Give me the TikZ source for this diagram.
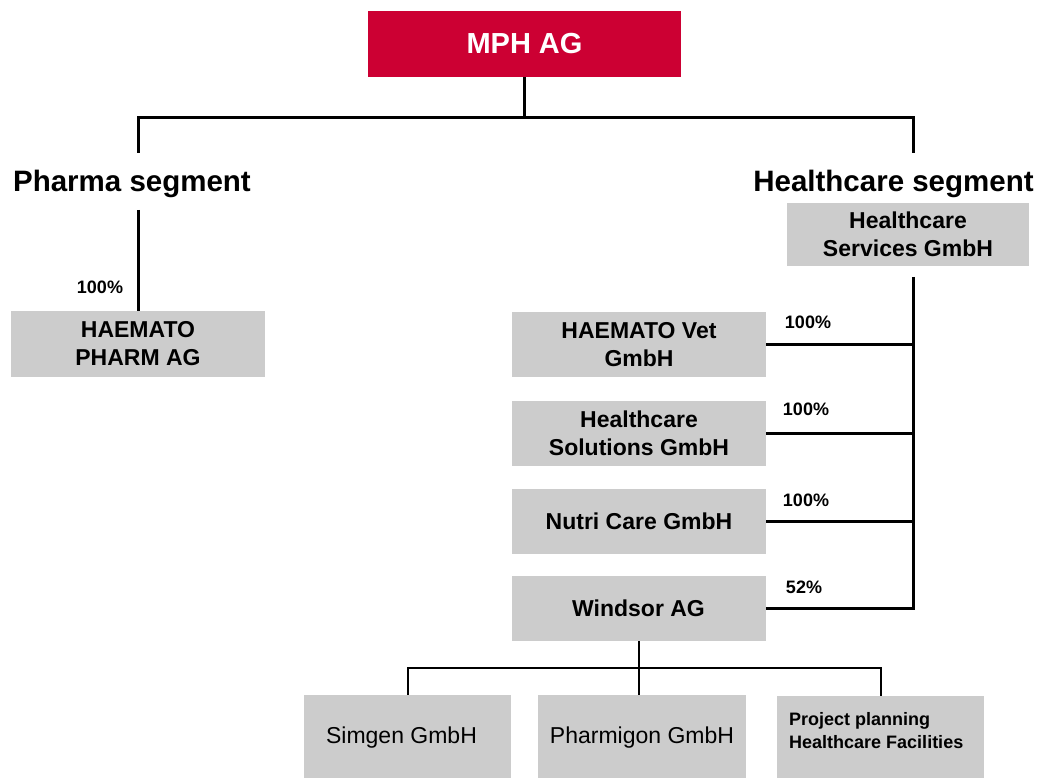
\documentclass[tikz,border=0pt]{standalone}
\usepackage{fontspec}
\setmainfont{Liberation Sans}
\definecolor{mphred}{HTML}{CC0033}
\definecolor{boxgray}{HTML}{CCCCCC}

\begin{document}
\begin{tikzpicture}[x=1pt,y=-1pt,
    unit/.style={fill=boxgray, inner sep=0pt, minimum width=254pt, minimum height=65pt,
        align=center, font=\fontsize{23}{28}\selectfont\bfseries},
    subunit/.style={fill=boxgray, inner sep=0pt, minimum width=207pt, minimum height=86pt,
        font=\fontsize{23}{28}\selectfont},
    share/.style={anchor=base, font=\fontsize{18}{22}\selectfont\bfseries},
    heading/.style={anchor=base, font=\fontsize{29.5}{33}\selectfont\bfseries},
    link/.style={line width=3pt},
    sublink/.style={line width=2pt}]
            \useasboundingbox (0,0) rectangle (1042,778);
            % holding
            \node (mph) [fill=mphred, text=white, minimum width=313pt, minimum height=66pt, inner sep=0pt,
                font=\fontsize{29}{32}\selectfont\bfseries] at (524.5,44) {MPH AG};
            % segments
            \node (pharma) [heading] at (132,192) {Pharma segment};
            \node (care) [heading] at (893.5,192) {Healthcare segment};
            \coordinate (top) at (524.5,118);
            \coordinate (pharmaend) at (138,153);
            \coordinate (careend) at (913,153);
            \draw [link] (mph.south) -- (top);
            \draw [link] (pharmaend) |- (top) -| (careend);

            % pharma side
            \node (hpa) [unit, minimum height=66pt] at (138,344) {HAEMATO\\PHARM AG};
            \coordinate (pharmatop) at (138,210);
            \draw [link] (pharmatop) -- (hpa.north);
            \node (hpashare) [share] at (100,294) {100\%};

            % healthcare side
            \node (hs) [unit, minimum width=242pt, minimum height=63pt] at (908,234.5) {Healthcare\\Services GmbH};
            \node (vet) [unit] at (639,344.5) {HAEMATO Vet\\GmbH};
            \node (sol) [unit] at (639,433) {Healthcare\\Solutions GmbH};
            \node (nutri) [unit] at (639,521) {Nutri Care GmbH};
            \node (windsor) [unit] at (638.5,608.5) {Windsor AG};
            \coordinate (hstop) at (913,277);
            \draw [link] (hstop) |- (windsor.east);
            \foreach \n in {vet,sol,nutri}{
                \draw [link] (\n.east) -- (\n.east -| hstop);
            }
            \node (vetshare) [share] at (808,328) {100\%};
            \node (solshare) [share] at (806,415) {100\%};
            \node (nutrishare) [share] at (806,506) {100\%};
            \node (windsorshare) [share] at (804,593) {52\%};

            % windsor holdings
            \node (simgen) [subunit] at (407.5,738) {\hspace*{-12pt}Simgen GmbH};
            \node (pharm) [subunit, minimum width=208pt] at (642,738) {Pharmigon GmbH};
            \node (proj) [subunit, minimum height=0pt, anchor=north west, inner xsep=12pt, inner ysep=16pt,
                font=\fontsize{18}{23}\selectfont\bfseries] at (777,696)
                {\parbox[t][54pt][t]{183pt}{Project planning\\Healthcare Facilities}};
            \coordinate (wbar) at (638.5,668);
            \draw [sublink] (windsor.south) -- (windsor.south |- pharm.north);
            \draw [sublink] (simgen.north) |- (wbar) -| (proj.north);
        \end{tikzpicture}
\end{document}
